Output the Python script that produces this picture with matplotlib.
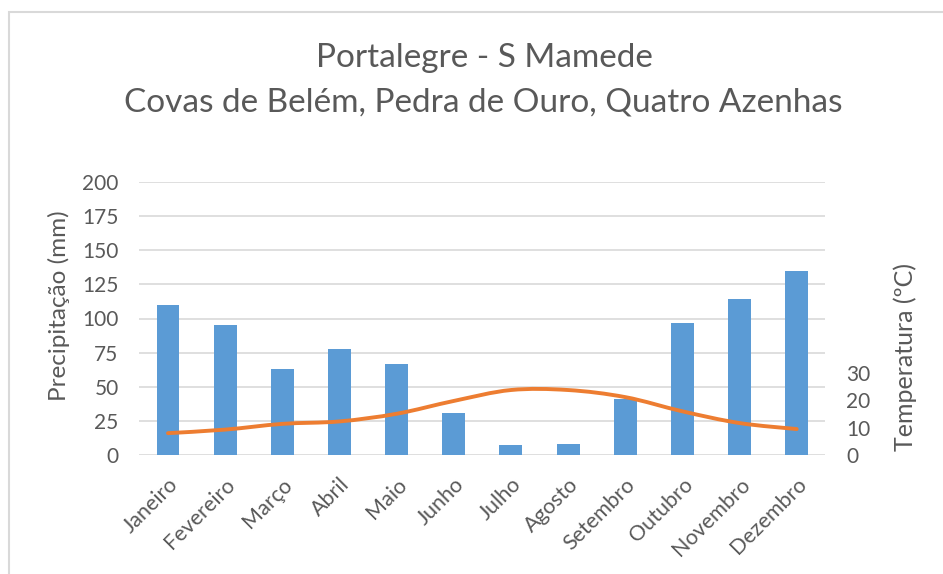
import matplotlib.pyplot as plt
import numpy as np
from matplotlib.path import Path
from matplotlib.patches import PathPatch, Rectangle

months = ["Janeiro", "Fevereiro", "Março", "Abril", "Maio", "Junho",
          "Julho", "Agosto", "Setembro", "Outubro", "Novembro", "Dezembro"]
precip = [110, 95, 63, 78, 67, 31, 7, 8, 41, 97, 114, 135]
temp = [8.0, 9.3, 11.4, 12.3, 15.1, 19.8, 23.8, 23.8, 21.2, 16.0, 11.7, 9.5]
precip_ticks = [0, 25, 50, 75, 100, 125, 150, 175, 200]
temp_ticks = [0, 10, 20, 30]

plt.rcParams["font.family"] = ["Lato", "DejaVu Sans"]
grey = "#595959"

W, H = 943, 574
fig = plt.figure(figsize=(W / 100, H / 100), dpi=100)

# chart frame (only left/top visible in the crop)
fig.patches.append(Rectangle((9 / W, -0.1), 1.2, (H - 12) / H + 0.1,
                             transform=fig.transFigure, fill=False,
                             edgecolor="#d9d9d9", linewidth=1.5))

ax = fig.add_axes([139.4 / W, (H - 455) / H, (825.3 - 139.4) / W, (455 - 182) / H])
x = np.arange(len(months))
ax.bar(x, precip, width=0.4, color="#5b9bd5", zorder=2)
ax.set_xlim(-0.5, len(months) - 0.5)
ax.set_ylim(0, 200)
ax.set_yticks(precip_ticks)
ax.grid(axis="y", color="#d9d9d9", linewidth=1.2, zorder=0)
ax.set_axisbelow(True)
for s in ax.spines.values():
    s.set_visible(False)
ax.tick_params(length=0, colors=grey, labelsize=15)
ax.tick_params(axis="y", pad=15)
ax.set_xticks(x)
ax.set_xticklabels(months, rotation=45, ha="right", va="top",
                   rotation_mode="anchor", fontsize=15.5)
ax.tick_params(axis="x", pad=14)

ax2 = ax.twinx()
ax2.set_ylim(0, 100)
ax2.set_yticks(temp_ticks)
for s in ax2.spines.values():
    s.set_visible(False)
ax2.tick_params(length=0, colors=grey, labelsize=15, pad=15)

# smoothed line (Bezier through the data points, like a spreadsheet smooth line)
pts = np.column_stack([x, temp])
verts = [tuple(pts[0])]
codes = [Path.MOVETO]
for i in range(len(pts) - 1):
    p0 = pts[max(i - 1, 0)]
    p1 = pts[i]
    p2 = pts[i + 1]
    p3 = pts[min(i + 2, len(pts) - 1)]
    c1 = p1 + (p2 - p0) / 6
    c2 = p2 - (p3 - p1) / 6
    verts += [tuple(c1), tuple(c2), tuple(p2)]
    codes += [Path.CURVE4] * 3
ax2.add_patch(PathPatch(Path(verts, codes), facecolor="none", edgecolor="#ed7d31",
                        linewidth=2.8, capstyle="round", joinstyle="round", zorder=3))

fig.text(484 / W, 1 - 58 / H, "Portalegre - S Mamede", ha="center", va="center",
         fontsize=24, color=grey)
fig.text(483 / W, 1 - 102 / H, "Covas de Belém, Pedra de Ouro, Quatro Azenhas",
         ha="center", va="center", fontsize=24, color=grey)
fig.text(59 / W, 1 - 306 / H, "Precipitação (mm)", rotation=90, ha="center",
         va="center", fontsize=17.5, color=grey)
fig.text(905 / W, 1 - 357 / H, "Temperatura (ºC)", rotation=90, ha="center",
         va="center", fontsize=18, color=grey)

fig.savefig("out.png", dpi=100)
